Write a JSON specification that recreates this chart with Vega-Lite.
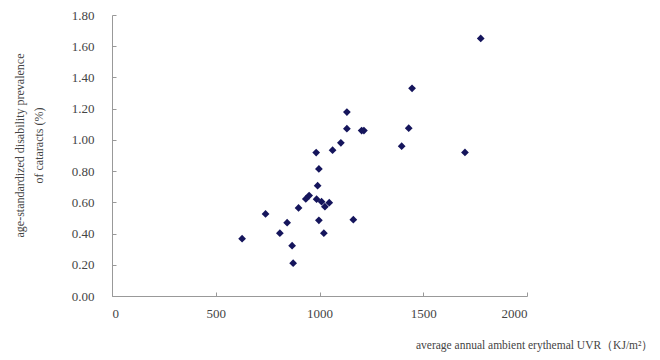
{
  "$schema": "https://vega.github.io/schema/vega-lite/v6.json",
  "width": 415,
  "height": 281,
  "autosize": {"type": "none"},
  "padding": {"left": 112, "top": 15, "right": 133, "bottom": 64},
  "background": "white",
  "config": {
    "view": {"stroke": null},
    "font": "Liberation Serif",
    "axis": {"grid": false, "domainColor": "#999999", "tickColor": "#999999", "labelColor": "#444444", "titleColor": "#444444", "labelFont": "Liberation Serif", "titleFont": "Liberation Serif", "titleFontWeight": "normal"}
  },
  "data": {"values": [
    {"uvr": 1777, "prev": 1.65},
    {"uvr": 1446, "prev": 1.33},
    {"uvr": 1430, "prev": 1.075},
    {"uvr": 1396, "prev": 0.96},
    {"uvr": 1701, "prev": 0.92},
    {"uvr": 1132, "prev": 1.178},
    {"uvr": 1132, "prev": 1.072},
    {"uvr": 1203, "prev": 1.06},
    {"uvr": 1214, "prev": 1.06},
    {"uvr": 1103, "prev": 0.981},
    {"uvr": 1063, "prev": 0.934},
    {"uvr": 984, "prev": 0.919},
    {"uvr": 997, "prev": 0.814},
    {"uvr": 991, "prev": 0.707},
    {"uvr": 950, "prev": 0.643},
    {"uvr": 934, "prev": 0.622},
    {"uvr": 986, "prev": 0.62},
    {"uvr": 1010, "prev": 0.604},
    {"uvr": 1026, "prev": 0.572},
    {"uvr": 1047, "prev": 0.598},
    {"uvr": 899, "prev": 0.564},
    {"uvr": 740, "prev": 0.526},
    {"uvr": 1163, "prev": 0.489},
    {"uvr": 997, "prev": 0.485},
    {"uvr": 844, "prev": 0.47},
    {"uvr": 809, "prev": 0.402},
    {"uvr": 1021, "prev": 0.402},
    {"uvr": 627, "prev": 0.367},
    {"uvr": 868, "prev": 0.322},
    {"uvr": 873, "prev": 0.21}
  ]},
  "mark": {"type": "point", "shape": "diamond", "filled": true, "size": 60, "color": "#15155c", "opacity": 1},
  "encoding": {
    "x": {
      "field": "uvr", "type": "quantitative",
      "scale": {"domain": [0, 2000], "nice": false, "zero": true},
      "axis": {
        "values": [0, 500, 1000, 1500, 2000], "format": "d",
        "tickSize": -4, "labelPadding": 15, "labelFontSize": 13,
        "title": "average annual ambient erythemal UVR（KJ/m²）",
        "titleFontSize": 11.5, "titleAlign": "right", "titleAnchor": null,
        "titleX": 541, "titleY": 52, "titleBaseline": "alphabetic"
      }
    },
    "y": {
      "field": "prev", "type": "quantitative",
      "scale": {"domain": [0, 1.8], "nice": false},
      "axis": {
        "values": [0, 0.2, 0.4, 0.6, 0.8, 1.0, 1.2, 1.4, 1.6, 1.8], "format": ".2f",
        "tickSize": -4, "labelPadding": 22, "labelFontSize": 13,
        "title": ["age-standardized disability prevalence", "of cataracts (%)"],
        "titleFontSize": 12, "titleAngle": -90, "titleAlign": "center", "titleAnchor": null,
        "titleX": -93, "titleY": 130, "titleBaseline": "middle", "titleLineHeight": 19
      }
    }
  }
}
